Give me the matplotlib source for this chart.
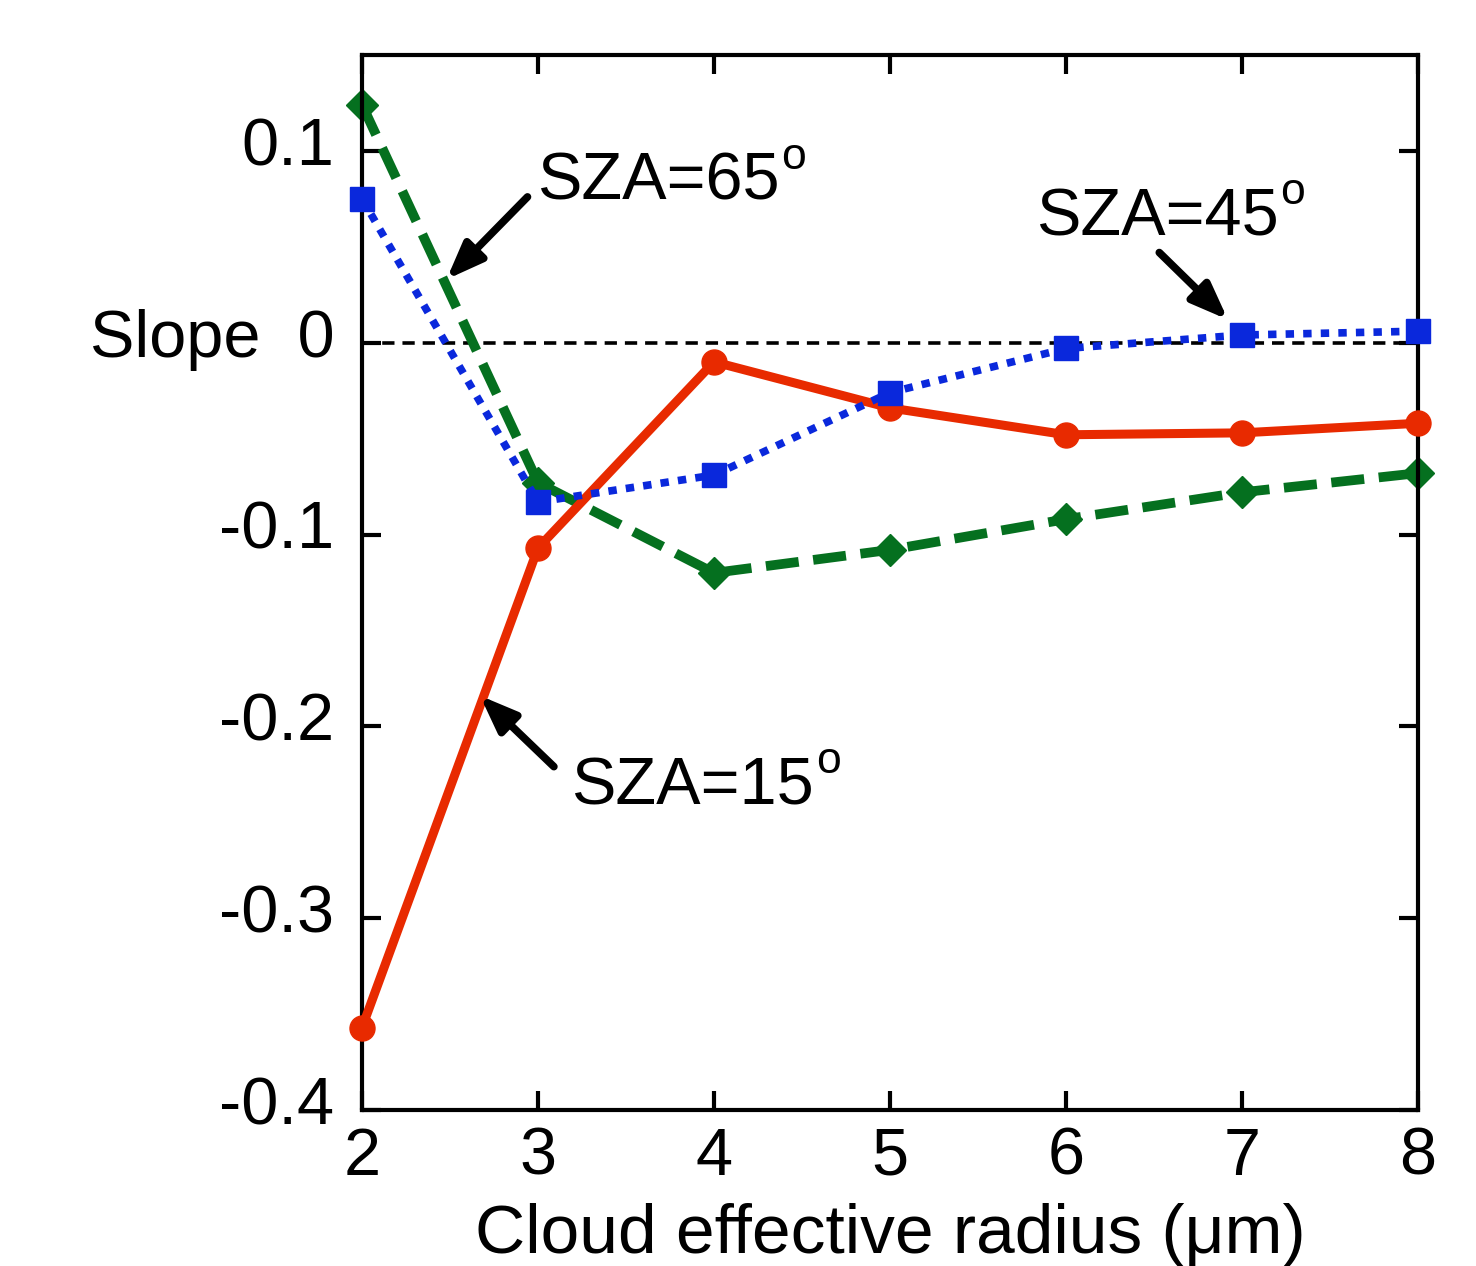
import matplotlib
matplotlib.use("Agg")
import matplotlib.pyplot as plt
from matplotlib.transforms import ScaledTranslation

plt.rcParams['font.family'] = ['Liberation Sans', 'DejaVu Sans']

radius = [2, 3, 4, 5, 6, 7, 8]
sza15 = [-0.357, -0.107, -0.010, -0.034, -0.048, -0.047, -0.042]
sza45 = [0.075, -0.083, -0.069, -0.026, -0.003, 0.004, 0.006]
sza65 = [0.124, -0.073, -0.120, -0.108, -0.092, -0.078, -0.068]

yticks = [-0.4, -0.3, -0.2, -0.1, 0.0, 0.1]
ytick_labels = ['-0.4', '-0.3', '-0.2', '-0.1', 'Slope  0', '0.1']
xticks = [2, 3, 4, 5, 6, 7, 8]

fig = plt.figure(figsize=(14.76, 12.66), dpi=100)
ax = fig.add_axes([0.2453, 0.1232, 0.9607 - 0.2453, 0.9566 - 0.1232])

ax.axhline(0, color='black', lw=2.6, ls=(0, (3.4, 2.2)), zorder=1)

ax.plot(radius, sza15, color='#E82A00', lw=6.5, marker='o', ms=18, zorder=3, clip_on=False)
ax.plot(radius, sza45, color='#0A28DC', lw=5.5, ls=(0, (1.1, 1.2)), marker='s', ms=17, zorder=4, clip_on=False)
ax.plot(radius, sza65, color='#05701F', lw=7, ls=(0, (3.4, 1.5)), marker='D', ms=16, zorder=2, clip_on=False)

ax.set_xlim(2, 8)
ax.set_ylim(-0.4, 0.15)
ax.set_xticks(xticks)
ax.set_xticklabels([str(x) for x in xticks])
ax.set_yticks(yticks)
ax.set_yticklabels(ytick_labels)

for s in ax.spines.values():
    s.set_linewidth(3)
ax.tick_params(direction='in', length=14, width=3, labelsize=48,
               top=True, right=True)
ax.tick_params(axis='y', pad=20)
ax.tick_params(axis='x', pad=12)

shift = ScaledTranslation(0, 7 / 72, fig.dpi_scale_trans)
for lab in ax.get_yticklabels():
    lab.set_transform(lab.get_transform() + shift)

ax.set_xlabel('Cloud effective radius (\u03bcm)', fontsize=50, labelpad=10)


def label(x, y, main, ha):
    t = ax.text(x, y, main, fontsize=48, ha=ha, va='baseline')
    ax.annotate('o', xy=(1, 1), xycoords=t, xytext=(1, 11), textcoords='offset points',
                fontsize=32, ha='left', va='top')
    return t


arrowprops = dict(arrowstyle='-|>,head_length=2.2,head_width=0.85', color='black', lw=5.5,
                  shrinkA=0, shrinkB=0)
label(2.994, 0.0745, 'SZA=65', 'left')
ax.annotate('', xy=(2.48, 0.033), xytext=(2.94, 0.076), arrowprops=arrowprops)
label(6.52, 0.056, 'SZA=45', 'center')
ax.annotate('', xy=(6.92, 0.012), xytext=(6.53, 0.047), arrowprops=arrowprops)
label(3.19, -0.2406, 'SZA=15', 'left')
ax.annotate('', xy=(2.67, -0.184), xytext=(3.09, -0.221), arrowprops=arrowprops)

fig.savefig('out.png', dpi=100)
